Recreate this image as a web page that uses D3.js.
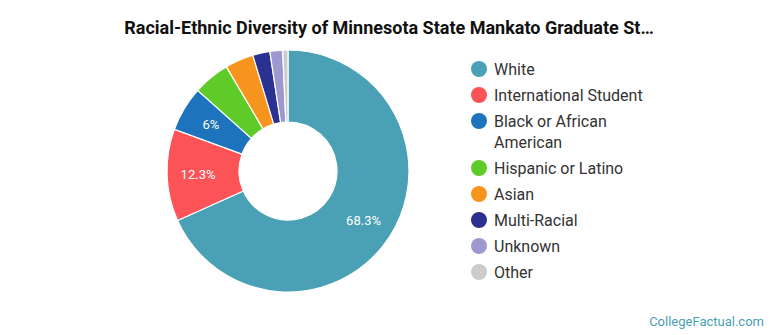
<!DOCTYPE html>
<html>
<head>
<meta charset="utf-8">
<script src="https://cdn.jsdelivr.net/npm/d3@7"></script>
<style>
  body { margin: 0; background: #fff; }
  text { font-family: Roboto, "Noto Sans", sans-serif; }
</style>
</head>
<body>
<div id="chart"></div>
<script>
// Chart data
var categories = ["White", "International Student", "Black or African American",
  "Hispanic or Latino", "Asian", "Multi-Racial", "Unknown", "Other"];
var shares = [68.3, 12.3, 6.0, 4.9, 3.8, 2.3, 1.7, 0.7];
var sliceLabels = ["68.3%", "12.3%", "6%", "", "", "", "", ""];
var colors = ["#4aa0b4", "#fc5356", "#1d74bd", "#5fcb28", "#f7941d", "#2b3190", "#9d99cf", "#cccccc"];

var svgWidth = 770;
var svgHeight = 335;

var svg = d3.select("#chart")
  .append("svg")
  .attr("width", svgWidth)
  .attr("height", svgHeight);

// Title
svg.append("text")
  .attr("x", 389)
  .attr("y", 34)
  .attr("text-anchor", "middle")
  .attr("font-size", "18px")
  .attr("font-weight", "700")
  .attr("fill", "#111")
  .text("Racial-Ethnic Diversity of Minnesota State Mankato Graduate St\u2026");

// Donut
var cx = 288, cy = 171;
var outerR = 121, innerR = 49;

var pie = d3.pie().sort(null).value(d => d);
var arc = d3.arc().innerRadius(innerR).outerRadius(outerR);
var labelArc = d3.arc().innerRadius(90).outerRadius(90);

var donut = svg.append("g")
  .attr("transform", `translate(${cx}, ${cy})`);

var arcs = pie(shares);

donut.selectAll("path")
  .data(arcs)
  .enter()
  .append("path")
  .attr("d", arc)
  .attr("fill", (d, i) => colors[i])
  .attr("stroke", "#fff")
  .attr("stroke-width", 1.2);

donut.selectAll("text")
  .data(arcs)
  .enter()
  .append("text")
  .attr("transform", d => `translate(${labelArc.centroid(d)})`)
  .attr("text-anchor", "middle")
  .attr("dy", "0.35em")
  .attr("font-size", "13px")
  .attr("fill", "#fff")
  .text((d, i) => sliceLabels[i]);

// Legend
var rowY = [69, 95, 121, 168, 194, 220, 246, 272];
var legend = svg.append("g");

var items = legend.selectAll("g")
  .data(categories)
  .enter()
  .append("g")
  .attr("transform", (d, i) => `translate(479, ${rowY[i]})`);

items.append("circle")
  .attr("r", 8)
  .attr("fill", (d, i) => colors[i]);

items.append("text")
  .attr("x", 15)
  .attr("font-size", "16px")
  .attr("fill", "#333")
  .each(function (d) {
    var t = d3.select(this);
    var lines = d === "Black or African American" ? ["Black or African", "American"] : [d];
    lines.forEach(function (line, j) {
      t.append("tspan")
        .attr("x", 15)
        .attr("dy", j === 0 ? "0.36em" : "21px")
        .text(line);
    });
  });

// Footer
svg.append("text")
  .attr("x", 764)
  .attr("y", 326)
  .attr("text-anchor", "end")
  .attr("font-size", "13px")
  .attr("fill", "#4a9fb5")
  .text("CollegeFactual.com");
</script>
</body>
</html>
